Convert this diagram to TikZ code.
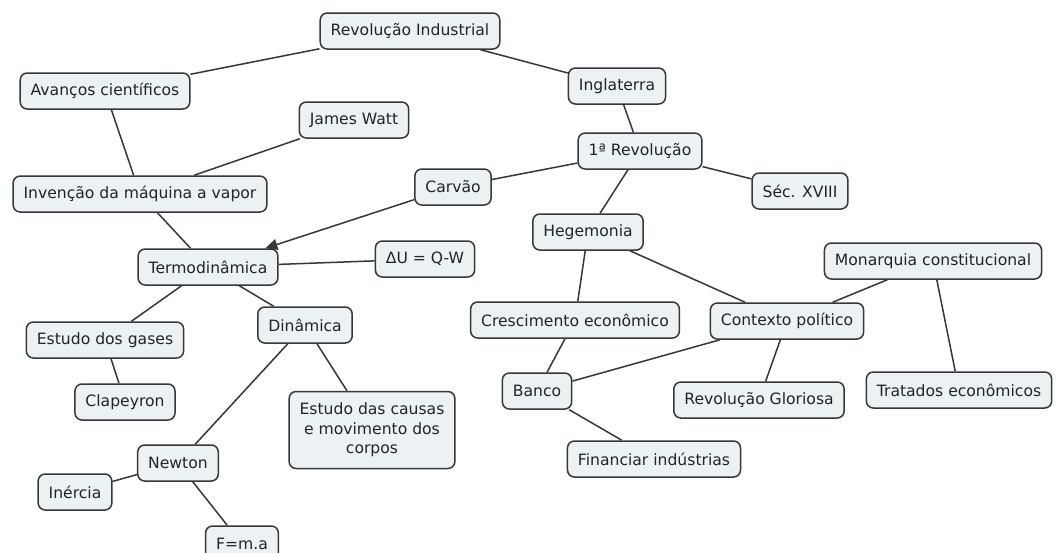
\documentclass[tikz,border=0pt]{standalone}
\usepackage{fontspec}
\setmainfont{DejaVu Sans}
\usetikzlibrary{arrows.meta}
\definecolor{boxfill}{RGB}{236,242,244}
\definecolor{boxline}{RGB}{55,55,55}
\definecolor{txt}{RGB}{35,35,35}
\begin{document}
\begin{tikzpicture}[x=1pt,y=-1pt,
  cbox/.style={draw=boxline,fill=boxfill,line width=1.5pt,rounded corners=7pt,
    minimum height=36pt,inner xsep=10.5pt,inner ysep=4pt,text=txt,
    font=\fontsize{15.6}{19.5}\selectfont,align=center},
  link/.style={draw=boxline,line width=1.5pt},
  arr/.style={link,-{Triangle[length=12pt,width=11pt]}}]
\useasboundingbox[fill=white] (0,0) rectangle (1056,552);
\node[cbox] (revind) at (410,31) {Revolução Industrial};
\node[cbox] (avancos) at (105,91) {Avanços científicos};
\node[cbox] (ingl) at (617,86) {Inglaterra};
\node[cbox] (watt) at (354,120) {James Watt};
\node[cbox] (rev1) at (640,151) {1ª Revolução};
\node[cbox] (carvao) at (453,187) {Carvão};
\node[cbox] (sec) at (800,191) {Séc. XVIII};
\node[cbox] (invencao) at (140,194) {Invenção da máquina a vapor};
\node[cbox] (hege) at (588,232) {Hegemonia};
\node[cbox] (termo) at (208,267) {Termodinâmica};
\node[cbox] (deltau) at (425,259) {ΔU = Q-W};
\node[cbox] (monarq) at (933,261) {Monarquia constitucional};
\node[cbox] (cresc) at (575,320) {Crescimento econômico};
\node[cbox] (contexto) at (787,321) {Contexto político};
\node[cbox] (dinamica) at (305,325) {Dinâmica};
\node[cbox] (gases) at (105,340) {Estudo dos gases};
\node[cbox] (clapeyron) at (125,402) {Clapeyron};
\node[cbox,minimum height=77pt] (causas) at (372,430) {Estudo das causas\\e movimento dos\\corpos};
\node[cbox] (banco) at (537,391) {Banco};
\node[cbox] (gloriosa) at (759,400) {Revolução Gloriosa};
\node[cbox] (tratados) at (959,390) {Tratados econômicos};
\node[cbox] (financiar) at (654,459) {Financiar indústrias};
\node[cbox] (newton) at (178,463) {Newton};
\node[cbox] (inercia) at (75,492) {Inércia};
\node[cbox] (fma) at (242,544) {F=m.a};
\draw[link] (revind) -- (avancos);
\draw[link] (revind) -- (ingl);
\draw[link] (ingl) -- (rev1);
\draw[link] (avancos) -- (invencao);
\draw[link] (watt) -- (invencao);
\draw[link] (invencao) -- (termo);
\draw[arr] (carvao) -- (termo);
\draw[link] (rev1) -- (carvao);
\draw[link] (rev1) -- (sec);
\draw[link] (rev1) -- (hege);
\draw[link] (termo) -- (deltau);
\draw[link] (termo) -- (gases);
\draw[link] (termo) -- (dinamica);
\draw[link] (gases) -- (clapeyron);
\draw[link] (dinamica) -- (newton);
\draw[link] (dinamica) -- (causas);
\draw[link] (newton) -- (inercia);
\draw[link] (newton) -- (fma);
\draw[link] (hege) -- (cresc);
\draw[link] (hege) -- (contexto);
\draw[link] (monarq) -- (contexto);
\draw[link] (monarq) -- (tratados);
\draw[link] (cresc) -- (banco);
\draw[link] (contexto) -- (banco);
\draw[link] (contexto) -- (gloriosa);
\draw[link] (banco) -- (financiar);
\end{tikzpicture}
\end{document}
